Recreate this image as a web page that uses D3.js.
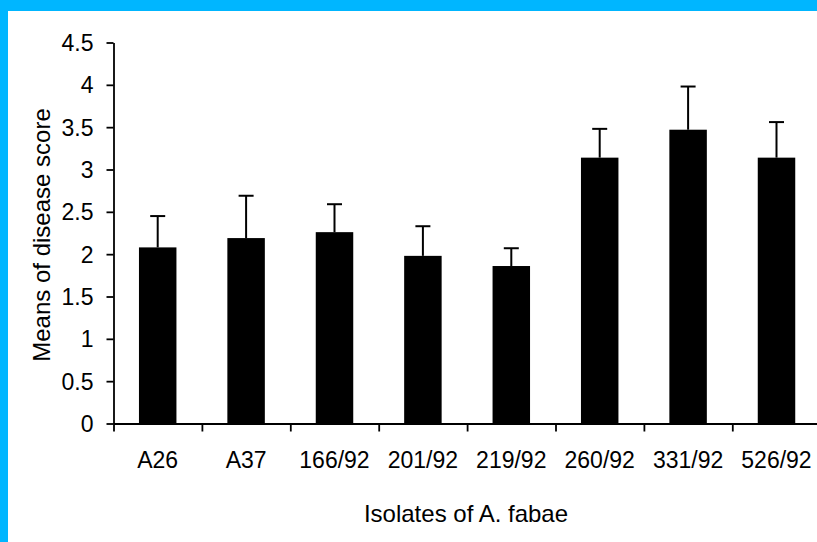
<!DOCTYPE html>
<html>
<head>
<meta charset="utf-8">
<script src="https://cdn.jsdelivr.net/npm/d3@7"></script>
<style>
  html, body { margin: 0; padding: 0; background: #fff; }
  svg { display: block; }
  text { font-family: "Liberation Sans", Arial, sans-serif; fill: #000; }
</style>
</head>
<body>
<script>
const categories = ["A26", "A37", "166/92", "201/92", "219/92", "260/92", "331/92", "526/92"];
const means = [2.08, 2.19, 2.26, 1.98, 1.86, 3.14, 3.47, 3.14];
const errors = [0.37, 0.50, 0.33, 0.35, 0.21, 0.34, 0.51, 0.42];
const yTicks = [0, 0.5, 1, 1.5, 2, 2.5, 3, 3.5, 4, 4.5];
const yTitle = "Means of disease score";
const xTitle = "Isolates of A. fabae";

const W = 817, H = 542;
const svg = d3.select("body").append("svg").attr("width", W).attr("height", H);

svg.append("rect").attr("x", 0).attr("y", 0).attr("width", W).attr("height", H).attr("fill", "#fff");
svg.append("rect").attr("x", 0).attr("y", 0).attr("width", 8).attr("height", H).attr("fill", "#00B6FF");
svg.append("rect").attr("x", 0).attr("y", 0).attr("width", W).attr("height", 11).attr("fill", "#00B6FF");

const x0 = 113.5, x1 = 820.7;
const y = d3.scaleLinear().domain([0, 4.5]).range([423.5, 42.5]);
const p = 0.576;
const x = d3.scaleBand().domain(categories).range([x0, x1]).paddingInner(p).paddingOuter(p / 2);
const xb = d3.scaleLinear().domain([0, categories.length]).range([x0, x1]);

// bars
svg.append("g").selectAll("rect").data(categories).join("rect")
  .attr("x", d => x(d))
  .attr("width", x.bandwidth())
  .attr("y", (d, i) => y(means[i]))
  .attr("height", (d, i) => y(0) - y(means[i]))
  .attr("fill", "#000");

// error bars
const eg = svg.append("g").attr("stroke", "#000").attr("stroke-width", 2);
categories.forEach((c, i) => {
  const cx = x(c) + x.bandwidth() / 2;
  eg.append("line").attr("x1", cx).attr("x2", cx).attr("y1", y(means[i])).attr("y2", y(means[i] + errors[i]));
  eg.append("line").attr("x1", cx - 7.5).attr("x2", cx + 7.5).attr("y1", y(means[i] + errors[i])).attr("y2", y(means[i] + errors[i]));
});

// y axis
const ya = svg.append("g").attr("transform", `translate(${x0},0)`)
  .call(d3.axisLeft(y).tickValues(yTicks).tickSize(7).tickPadding(13).tickFormat(d => String(d)).tickSizeOuter(0));
ya.select(".domain").attr("stroke-width", 1.8);
ya.selectAll(".tick line").attr("stroke-width", 1.8);
ya.selectAll("text").style("font-size", "23px").attr("dy", "0.35em");

// x axis (boundary ticks)
const xa = svg.append("g").attr("transform", `translate(0,${y(0)})`)
  .call(d3.axisBottom(xb).tickValues(d3.range(categories.length)).tickSize(8).tickFormat("").tickSizeOuter(0));
xa.select(".domain").attr("stroke-width", 1.8);
xa.selectAll(".tick line").attr("stroke-width", 1.8);

// x labels
svg.append("g").selectAll("text").data(categories).join("text")
  .attr("x", d => x(d) + x.bandwidth() / 2)
  .attr("y", 468)
  .attr("text-anchor", "middle")
  .style("font-size", "23px")
  .text(d => d);

// titles
svg.append("text").attr("x", 466).attr("y", 521.5).attr("text-anchor", "middle")
  .style("font-size", "24px").text(xTitle);
svg.append("text").attr("transform", "translate(50,235) rotate(-90)").attr("text-anchor", "middle")
  .style("font-size", "24px").text(yTitle);
</script>
</body>
</html>
